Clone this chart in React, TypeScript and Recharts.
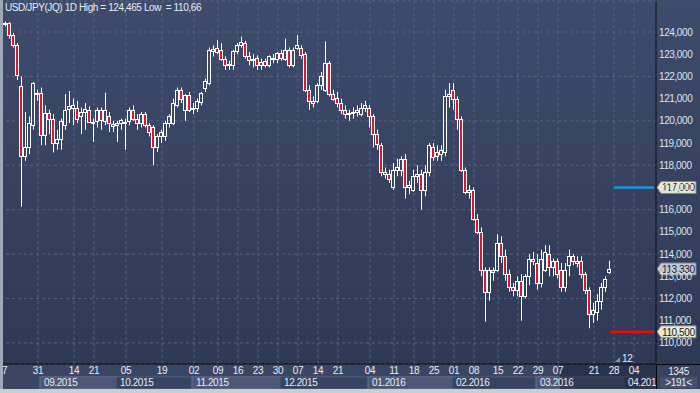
import { Bar, CartesianGrid, ComposedChart, ReferenceArea, ReferenceLine, XAxis, YAxis } from 'recharts';

// daily candles [open, high, low, close]
const ohlc: [number, number, number, number][] = [
    [124.35, 124.47, 124.25, 124.4], [124.4, 124.45, 123.7, 123.85], [123.85, 123.95, 123.3, 123.4], [123.4, 123.5, 121.84, 122.05],
    [121.55, 122.0, 116.13, 118.4], [118.4, 120.4, 118.2, 118.84], [118.84, 120.2, 118.5, 119.9], [119.8, 121.75, 119.6, 121.7],
    [121.25, 121.4, 120.9, 121.2], [121.24, 121.5, 118.9, 119.36], [119.36, 120.7, 118.9, 120.35], [120.35, 120.5, 119.4, 120.1],
    [120.07, 120.3, 118.57, 118.99], [119.0, 119.6, 118.7, 119.2], [119.2, 120.1, 118.7, 120.0], [119.8, 121.2, 119.6, 120.5],
    [120.55, 121.34, 119.9, 120.65], [120.6, 121.0, 119.8, 120.7], [120.6, 120.9, 119.9, 120.1], [120.2, 120.6, 119.4, 120.4],
    [120.4, 120.8, 119.6, 120.55], [120.5, 120.65, 119.9, 119.96], [119.95, 120.1, 119.06, 119.95], [120.0, 120.6, 119.7, 120.5],
    [120.5, 120.6, 119.6, 120.05], [120.0, 121.27, 119.8, 120.5], [120.2, 120.4, 119.5, 119.9], [119.85, 120.0, 119.5, 119.75],
    [119.8, 120.0, 119.05, 119.9], [119.9, 120.1, 119.6, 120.05], [119.95, 120.1, 118.7, 119.95], [120.0, 120.6, 119.8, 120.5],
    [120.5, 120.7, 120.0, 120.1], [120.1, 120.3, 119.6, 119.9], [119.9, 120.4, 119.7, 120.3], [120.3, 120.4, 119.7, 119.8],
    [119.8, 119.9, 119.3, 119.5], [119.7, 119.8, 118.0, 118.8], [118.84, 119.4, 118.6, 119.3], [119.3, 119.6, 119.0, 119.5],
    [119.3, 120.0, 119.1, 119.9], [119.9, 120.3, 119.7, 120.2], [119.9, 121.0, 119.8, 120.8], [120.7, 121.5, 120.6, 121.4],
    [121.4, 121.5, 120.8, 121.0], [120.5, 121.2, 120.0, 121.15], [121.15, 121.3, 120.4, 120.5], [120.55, 120.8, 120.3, 120.6],
    [120.6, 121.0, 120.4, 120.9], [120.85, 121.3, 120.7, 121.25], [121.5, 121.9, 121.3, 121.8], [121.7, 123.3, 121.6, 123.2],
    [123.15, 123.4, 122.9, 123.25], [123.3, 123.64, 123.0, 123.1], [123.2, 123.5, 122.7, 122.8], [122.8, 122.9, 122.3, 122.5],
    [122.5, 122.7, 122.3, 122.55], [122.5, 123.2, 122.3, 123.15], [123.15, 123.5, 123.0, 123.4], [123.4, 123.79, 123.3, 123.55],
    [123.5, 123.6, 122.8, 122.9], [122.9, 123.1, 122.5, 122.75], [122.75, 123.0, 122.4, 122.8], [122.85, 122.95, 122.3, 122.5],
    [122.5, 122.8, 122.3, 122.65], [122.7, 122.8, 122.4, 122.5], [122.5, 122.95, 122.4, 122.9], [122.85, 123.0, 122.6, 122.8],
    [122.8, 123.1, 122.6, 123.05], [123.05, 123.2, 122.7, 122.85], [122.8, 123.7, 122.7, 123.2], [123.2, 123.3, 122.4, 122.5],
    [122.5, 123.3, 122.4, 123.2], [123.3, 123.86, 123.2, 123.4], [123.3, 123.4, 122.8, 122.95], [123.0, 123.1, 121.3, 121.4],
    [121.4, 121.6, 120.5, 120.9], [120.9, 121.1, 120.6, 120.8], [120.9, 121.7, 120.8, 121.6], [121.6, 122.2, 121.4, 122.0],
    [121.4, 123.57, 121.3, 122.6], [122.6, 122.7, 121.1, 121.2], [121.2, 121.4, 120.9, 121.0], [121.05, 121.3, 120.6, 120.8],
    [120.8, 121.0, 120.3, 120.5], [120.5, 120.7, 120.1, 120.3], [120.3, 120.5, 120.0, 120.35], [120.35, 120.6, 120.1, 120.4],
    [120.4, 120.7, 120.2, 120.5], [120.3, 120.8, 120.2, 120.6], [120.6, 120.9, 120.4, 120.7], [120.6, 120.7, 119.7, 120.2],
    [120.2, 120.3, 118.8, 119.4], [119.4, 119.6, 118.7, 118.95], [118.9, 119.0, 117.5, 117.7], [117.7, 117.9, 117.4, 117.6],
    [117.6, 117.8, 117.2, 117.4], [117.0, 118.1, 116.9, 117.8], [117.8, 118.3, 117.5, 117.9], [117.8, 118.4, 117.5, 118.3],
    [118.3, 118.5, 116.5, 117.0], [117.0, 117.3, 116.7, 117.1], [116.9, 117.8, 116.8, 117.5], [117.5, 118.0, 117.2, 117.6],
    [117.6, 117.8, 116.0, 116.9], [116.9, 118.0, 116.6, 117.7], [117.7, 119.0, 117.5, 118.9], [118.8, 119.0, 118.2, 118.35],
    [118.6, 118.9, 118.2, 118.4], [118.5, 118.9, 118.2, 118.7], [118.6, 121.4, 118.4, 121.1], [121.1, 121.7, 120.6, 121.2],
    [121.4, 121.7, 120.5, 121.0], [121.0, 121.1, 119.6, 120.1], [120.1, 120.2, 117.7, 117.8], [117.8, 117.9, 116.7, 116.8],
    [116.8, 117.1, 116.5, 116.9], [116.9, 117.0, 115.5, 115.6], [115.6, 115.8, 114.9, 115.0], [115.0, 115.2, 113.0, 113.3],
    [113.3, 113.4, 110.96, 112.3], [112.3, 113.4, 111.9, 113.3], [113.3, 113.4, 112.8, 113.2], [113.3, 114.9, 113.2, 114.5],
    [114.5, 114.8, 113.6, 113.9], [113.9, 114.2, 112.8, 113.1], [113.1, 113.3, 112.3, 112.5], [112.5, 112.7, 112.1, 112.4],
    [112.4, 113.0, 112.1, 112.8], [112.8, 113.1, 111.0, 112.1], [112.1, 113.1, 112.0, 113.0], [113.0, 114.0, 112.6, 113.8],
    [113.8, 114.1, 113.5, 113.7], [113.6, 114.0, 112.4, 112.7], [112.7, 114.2, 112.5, 113.8], [113.3, 114.4, 113.2, 114.1],
    [114.0, 114.4, 113.0, 113.4], [113.4, 113.8, 113.0, 113.7], [113.7, 113.8, 112.9, 113.1], [113.3, 113.6, 112.3, 112.5],
    [112.5, 113.6, 112.3, 113.3], [113.5, 114.2, 113.0, 113.9], [113.9, 114.0, 113.5, 113.7], [113.7, 113.9, 113.4, 113.6],
    [113.7, 113.9, 112.9, 113.1], [113.1, 113.2, 112.2, 112.4], [112.4, 112.5, 110.66, 111.3], [111.3, 111.8, 110.9, 111.5],
    [111.4, 112.2, 111.0, 111.9], [111.9, 112.7, 111.5, 112.5], [112.5, 113.0, 112.3, 112.9], [113.2, 113.7, 113.1, 113.33],
];

// x slots: one per trading day, slot 0 and the tail are empty
const SLOTS = 164;
const dayTicks: [number, string][] = [
    [0, '17'], [9, '31'], [18, '14'], [23, '21'], [31, '05'], [40, '19'], [48, '02'], [54, '09'], [59, '16'],
    [64, '23'], [69, '30'], [74, '07'], [79, '14'], [84, '21'], [92, '04'], [98, '11'], [103, '18'], [108, '25'],
    [113, '01'], [118, '08'], [124, '15'], [129, '22'], [134, '29'], [139, '07'], [148, '21'], [153, '28'], [158, '04'],
];
const months: [number, string][] = [
    [10, '09.2015'], [29, '10.2015'], [48, '11.2015'], [70, '12.2015'], [92, '01.2016'], [113, '02.2016'], [134, '03.2016'], [156, '04.2016'],
];
const priceTicks = [110, 111, 112, 113, 114, 115, 116, 117, 118, 119, 120, 121, 122, 123, 124];
const lastPrice = 113.33;
const blueLevel = 117;
const redLevel = 110.5;

const Y_MIN = 109.05;
const Y_MAX = 125.396;
// rows below the plot (in price units, outside the domain)
const MONTH_TOP = 108.47;
const MONTH_BOTTOM = 107.93;
const AXIS_TOP = 109.05;

const fmt = (v: number) => v.toFixed(3).replace('.', ',');

const rows = Array.from({ length: SLOTS }, (_, k) => {
    const c = ohlc[k - 1];
    if (!c) return { k };
    return { k, o: c[0], h: c[1], l: c[2], c: c[3], range: [c[2], c[1]] };
});
const tickLabel = new Map(dayTicks);

function Candle(props: any) {
    const { x, y, width, height, payload } = props;
    if (payload.o === undefined) return null;
    const { o, h, l, c } = payload;
    const n = Math.floor(x + width / 2);
    const span = h - l || 1;
    const yOf = (v: number) => y + ((h - v) / span) * height;
    const top = Math.round(yOf(Math.max(o, c))) + 0.5;
    const bot = Math.max(Math.round(yOf(Math.min(o, c))) + 0.5, top + 1);
    const up = c >= o;
    return (
        <g>
            <line x1={n + 0.5} x2={n + 0.5} y1={y} y2={top} stroke="#fff" />
            <line x1={n + 0.5} x2={n + 0.5} y1={bot} y2={y + height} stroke="#fff" />
            <rect x={n - 1.5} y={top} width={3} height={bot - top} fill={up ? 'none' : '#e3122d'} stroke="#fff" />
        </g>
    );
}

function PriceTag({ viewBox, text, fill }: any) {
    const x = viewBox.x + viewBox.width + 1;
    const y = viewBox.y;
    return (
        <g>
            <polygon
                points={`${x},${y} ${x + 4},${y - 6} ${x + 39},${y - 6} ${x + 39},${y + 6} ${x + 4},${y + 6}`}
                fill={fill}
                stroke="#7d8290"
            />
            <text x={x + 5} y={y + 4} fontSize={10} fill="#1b2030">{text}</text>
        </g>
    );
}

function DayTick({ x, y, payload }: any) {
    return (
        <text x={x} y={y + 8} textAnchor="middle" fontSize={10} fill="#e6ecf5">
            {tickLabel.get(payload.value)}
        </text>
    );
}

export default function App() {
    return (
        <div
            style={{
                position: 'absolute',
                left: 0,
                top: 0,
                width: 700,
                height: 393,
                fontFamily: '"Liberation Sans", Arial, sans-serif',
                letterSpacing: '-0.4px',
                background: 'linear-gradient(to bottom, #3f4b6b 0px, #2e3956 364px, #3b4665 364px, #3b4665 389px)',
                overflow: 'hidden',
            }}
        >
            <ComposedChart width={700} height={393} data={rows} margin={{ top: 1, right: 0, bottom: 4, left: 0 }}>
                <CartesianGrid stroke="#56647f" strokeDasharray="3 3" />
                <XAxis
                    dataKey="k"
                    type="category"
                    height={25}
                    ticks={dayTicks.map((t) => t[0])}
                    interval={0}
                    tickLine={false}
                    tickSize={0}
                    axisLine={{ stroke: '#05070c' }}
                    tick={<DayTick />}
                />
                <YAxis
                    orientation="right"
                    width={44}
                    type="number"
                    domain={[Y_MIN, Y_MAX]}
                    allowDataOverflow
                    ticks={priceTicks}
                    tickFormatter={fmt}
                    tickLine={false}
                    tickSize={0}
                    tickMargin={3}
                    axisLine={{ stroke: '#05070c' }}
                    tick={{ fill: '#dde4ee', fontSize: 10 }}
                />
                <Bar dataKey="range" shape={<Candle />} isAnimationActive={false} />
                {months.map(([start, label], i) => (
                    <ReferenceArea
                        key={label}
                        x1={start}
                        x2={months[i + 1] ? months[i + 1][0] : SLOTS - 1}
                        y1={MONTH_BOTTOM}
                        y2={MONTH_TOP}
                        ifOverflow="visible"
                        fill={i % 2 === 0 ? '#4c5776' : '#384361'}
                        fillOpacity={1}
                        stroke={i % 2 === 0 ? '#66718d' : '#515c79'}
                        label={{ value: label, position: 'insideLeft', offset: 4, fill: '#e6ecf5', fontSize: 10 }}
                    />
                ))}
                <ReferenceArea
                    x1={140}
                    x2={SLOTS - 1}
                    y1={MONTH_BOTTOM - 0.05}
                    y2={AXIS_TOP}
                    ifOverflow="visible"
                    fill="#1d253a"
                    fillOpacity={0.55}
                    stroke="none"
                />
                <ReferenceLine
                    segment={[{ x: 153, y: blueLevel }, { x: SLOTS - 1, y: blueLevel }]}
                    stroke="#1b95da"
                    strokeWidth={2.5}
                />
                <ReferenceLine
                    segment={[{ x: 152, y: redLevel }, { x: SLOTS - 1, y: redLevel }]}
                    stroke="#e80c0c"
                    strokeWidth={2.5}
                />
                <ReferenceLine y={blueLevel} stroke="none" label={<PriceTag text={fmt(blueLevel)} fill="#ece8cb" />} />
                <ReferenceLine y={lastPrice} stroke="none" label={<PriceTag text={fmt(lastPrice)} fill="#c3c7cf" />} />
                <ReferenceLine y={redLevel} stroke="none" label={<PriceTag text={fmt(redLevel)} fill="#ece8cb" />} />
            </ComposedChart>
            <div style={{ position: 'absolute', left: 5, top: 2, fontSize: 10, lineHeight: '12px', color: '#e8edf5', whiteSpace: 'pre' }}>
                USD/JPY(JQ) 1D High = 124,465 Low  = 110,66
            </div>
            <div style={{ position: 'absolute', left: 615, top: 353, fontSize: 10, lineHeight: '12px', color: '#e0e7f1' }}>
                <span style={{ display: 'inline-block', width: 0, height: 0, borderLeft: '5px solid transparent', borderBottom: '5px solid #8a93a6', marginRight: 2 }} />
                12
            </div>
            <div style={{ position: 'absolute', left: 656, top: 364, width: 44, height: 25, background: '#38435f', borderLeft: '1px solid #05070c', borderTop: '1px solid #05070c', boxSizing: 'border-box', color: '#e6ecf5', fontSize: 10, textAlign: 'center' }}>
                <div style={{ lineHeight: '11px', paddingTop: 1 }}>1345</div>
                <div style={{ lineHeight: '11px', margin: '0 3px', background: '#45506d' }}>&gt;191&lt;</div>
            </div>
            <div style={{ position: 'absolute', left: 0, top: 0, width: 3, height: 393, background: '#9ea8b8' }} />
            <div style={{ position: 'absolute', left: 0, top: 389, width: 700, height: 4, background: '#c9cdd4' }} />
        </div>
    );
}
